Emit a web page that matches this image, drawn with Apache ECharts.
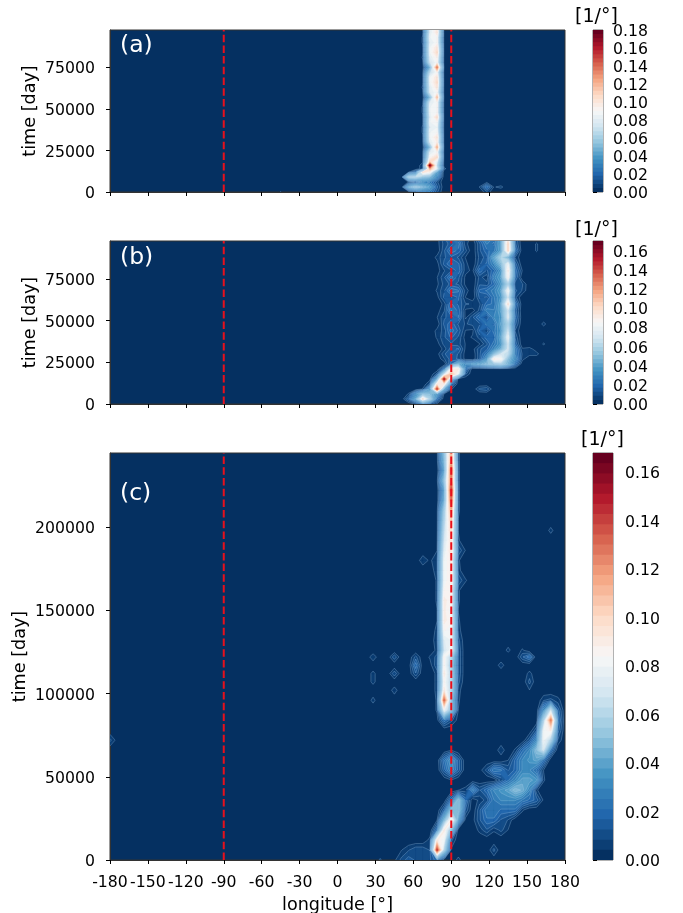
<!DOCTYPE html>
<html>
<head>
<meta charset="utf-8">
<style>
  html, body { margin: 0; padding: 0; background: #fff; }
  #main { width: 683px; height: 913px; }
</style>
<script src="https://cdn.jsdelivr.net/npm/echarts@6/dist/echarts.min.js"></script>
</head>
<body>
<div id="main"></div>
<script>
// rows are [time, first longitude, value, value, ...] on a 5.625 degree grid
// several rows can share a time, anything not listed is zero
const rowsA = [
  [0, -45, 0.005], [0, 5.625, 0.004], [0, 39.375, 0.004],
  [0, 61.875, 0.006, 0.02, 0.025, 0.01], [0, 118.125, 0.008],
  [3000, 56.25, 0.045, 0.06, 0.05, 0.04, 0.015], [3000, 112.5, 0.005, 0.022, 0.004], [3000, 129.375, 0.006],
  [6000, 56.25, 0.005, 0.01, 0.03, 0.025, 0.01], [6000, 118.125, 0.003],
  [9000, 56.25, 0.065, 0.07, 0.055, 0.05, 0.03],
  [12000, 56.25, 0.004, 0.02, 0.1, 0.09, 0.04],
  [14000, 67.5, 0.008, 0.12, 0.08, 0.006],
  [16000, 67.5, 0.008, 0.17, 0.07],
  [18000, 67.5, 0.004, 0.11, 0.08],
  [21000, 67.5, 0.004, 0.09, 0.105],
  [24000, 67.5, 0.004, 0.08, 0.09],
  [27000, 67.5, 0.002, 0.05, 0.12],
  [30000, 67.5, 0.004, 0.08, 0.095],
  [33000, 67.5, 0.004, 0.085, 0.1],
  [36000, 67.5, 0.005, 0.085, 0.09],
  [39000, 67.5, 0.005, 0.08, 0.085],
  [42000, 67.5, 0.004, 0.085, 0.09],
  [45000, 67.5, 0.004, 0.08, 0.105],
  [48000, 67.5, 0.005, 0.085, 0.09],
  [51000, 67.5, 0.005, 0.085, 0.09],
  [54000, 67.5, 0.004, 0.08, 0.09],
  [57000, 67.5, 0.002, 0.05, 0.115],
  [60000, 67.5, 0.004, 0.08, 0.09],
  [63000, 67.5, 0.005, 0.08, 0.1],
  [66000, 67.5, 0.004, 0.085, 0.105],
  [69000, 67.5, 0.004, 0.085, 0.1],
  [72000, 67.5, 0.004, 0.07, 0.09],
  [75000, 67.5, 0.002, 0.045, 0.135],
  [78000, 67.5, 0.004, 0.075, 0.09],
  [81000, 67.5, 0.005, 0.08, 0.095],
  [84000, 67.5, 0.004, 0.085, 0.105],
  [87000, 67.5, 0.004, 0.085, 0.1],
  [90000, 67.5, 0.005, 0.08, 0.09],
  [93000, 67.5, 0.005, 0.085, 0.09],
  [96000, 67.5, 0.004, 0.08, 0.1],
  [99000, 67.5, 0.004, 0.08, 0.095]
]

const rowsB = [
  [0, -45, 0.004], [0, 61.875, 0.005, 0.02, 0.012, 0.003], [0, 112.5, 0.004], [0, 140.625, 0.004],
  [3000, 56.25, 0.015, 0.04, 0.095, 0.06, 0.02],
  [6000, 56.25, 0.005, 0.03, 0.05, 0.05, 0.035, 0.003],
  [9000, 67.5, 0.005, 0.035, 0.14, 0.04, 0.005], [9000, 112.5, 0.01, 0.012],
  [12000, 73.125, 0.01, 0.09, 0.09, 0.02],
  [15000, 73.125, 0.002, 0.04, 0.15, 0.05],
  [18000, 78.75, 0.01, 0.07, 0.11, 0.08, 0.01],
  [21000, 84.375, 0.02, 0.09, 0.09, 0.02],
  [24000, 90, 0.02, 0.045, 0.03, 0.035, 0.04, 0.05, 0.055, 0.06, 0.045, 0.02],
  [27000, 84.375, 0.008, 0.015, 0.012, 0.002, 0, 0.012, 0.035, 0.09, 0.085, 0.05, 0.03, 0.006],
  [30000, 78.75, 0.002, 0.012, 0.018, 0.012, 0.002, 0, 0.012, 0.025, 0.05, 0.07, 0.065, 0.025, 0.008, 0.006, 0.006],
  [33000, 78.75, 0, 0.006, 0.015, 0.018, 0.003, 0.002, 0.012, 0.016, 0.03, 0.045, 0.07, 0.025, 0.005, 0.006, 0.002],
  [36000, 78.75, 0.002, 0.01, 0.012, 0.01, 0.004, 0, 0.004, 0.012, 0.024, 0.035, 0.07, 0.016], [36000, 163.125, 0.005],
  [40000, 78.75, 0.005, 0.012, 0.018, 0.012, 0.002, 0.005, 0.01, 0.02, 0.018, 0.04, 0.08, 0.012],
  [44000, 78.75, 0.006, 0.01, 0.024, 0.016, 0.004, 0.003, 0.018, 0.01, 0.024, 0.035, 0.07, 0.008],
  [48000, 78.75, 0, 0.014, 0.02, 0.012, 0.008, 0.01, 0.012, 0.024, 0.02, 0.04, 0.06, 0.014], [48000, 163.125, 0.006],
  [52000, 78.75, 0.004, 0.012, 0.015, 0.022, 0.003, 0.012, 0.022, 0.012, 0.03, 0.035, 0.075, 0.018],
  [56000, 78.75, 0.002, 0.008, 0.026, 0.02, 0.003, 0.002, 0.01, 0.028, 0.026, 0.04, 0.07, 0.015],
  [60000, 78.75, 0, 0.006, 0.022, 0.016, 0.009, 0.008, 0.008, 0.02, 0.022, 0.04, 0.095, 0.02],
  [64000, 78.75, 0.002, 0.014, 0.012, 0.018, 0.004, 0, 0.014, 0.012, 0.025, 0.035, 0.07, 0.01],
  [68000, 78.75, 0.005, 0.012, 0.025, 0.022, 0.007, 0, 0.018, 0.022, 0.028, 0.04, 0.085, 0.014, 0.008],
  [72000, 78.75, 0.003, 0.01, 0.014, 0.012, 0.003, 0, 0.012, 0.01, 0.02, 0.035, 0.06, 0.01, 0.009],
  [76000, 78.75, 0.004, 0.012, 0.024, 0.014, 0.003, 0, 0.01, 0.006, 0.028, 0.04, 0.085, 0.018],
  [80000, 78.75, 0.002, 0.008, 0.012, 0.02, 0.006, 0.003, 0.02, 0.012, 0.02, 0.035, 0.09, 0.02, 0.004],
  [84000, 78.75, 0.002, 0.014, 0.022, 0.018, 0.006, 0, 0.012, 0.018, 0.03, 0.05, 0.08, 0.015],
  [88000, 78.75, 0.006, 0.012, 0.016, 0.012, 0.004, 0, 0.01, 0.015, 0.04, 0.06, 0.045, 0.008],
  [92000, 78.75, 0, 0.012, 0.024, 0.02, 0.01, 0, 0.012, 0.02, 0.024, 0.04, 0.1, 0.02], [92000, 157.5, 0.005],
  [96000, 78.75, 0.002, 0.01, 0.015, 0.024, 0.006, 0, 0.012, 0.026, 0.02, 0.04, 0.1, 0.014], [96000, 157.5, 0.005],
  [100000, 78.75, 0.002, 0.012, 0.022, 0.016, 0.006, 0.003, 0.02, 0.035, 0.024, 0.04, 0.09, 0.012]
]

const rowsC = [
  [0, 33.75, 0.005], [0, 45, 0.003, 0.01, 0.015, 0.012, 0.01, 0.012, 0.02], [0, 95.625, 0.006],
  [6000, 50.625, 0.004, 0.008, 0.012, 0.012, 0.008, 0.14, 0.06, 0.003], [6000, 123.75, 0.01],
  [12000, 73.125, 0.006, 0.09, 0.08, 0.01],
  [18000, 78.75, 0.02, 0.09, 0.05], [18000, 112.5, 0.006, 0.012, 0.005, 0.01, 0.004],
  [24000, 78.75, 0.004, 0.045, 0.09, 0.035, 0.002, 0.002, 0.012, 0.02, 0.02, 0.012, 0.008],
  [30000, 84.375, 0.015, 0.05, 0.05, 0.012], [30000, 112.5, 0.012, 0.025, 0.025, 0.02, 0.02, 0.02, 0.005],
  [36000, 90, 0.02, 0.05, 0.02, 0, 0.006, 0.01, 0.025, 0.03, 0.03, 0.03, 0.025, 0.02, 0.015, 0.003],
  [42000, 95.625, 0.004, 0.006, 0.028, 0.012, 0.02, 0.03, 0.035, 0.04, 0.05, 0.045, 0.03, 0.005],
  [48000, 90, 0.004], [48000, 129.375, 0.01, 0.02, 0.03, 0.04, 0.04, 0.035, 0.005],
  [54000, 84.375, 0.015, 0.03, 0.015], [54000, 112.5, 0.002, 0.01, 0.025, 0.022, 0.012, 0.018, 0.03, 0.03, 0.02, 0.004],
  [60000, 84.375, 0.02, 0.035, 0.015], [60000, 135, 0.004, 0.018, 0.03, 0.035, 0.04, 0.02],
  [66000, 90, 0.004], [66000, 129.375, 0.008, 0, 0.005, 0.02, 0.03, 0.05, 0.07, 0.02],
  [72000, -180, 0.01, 0.002], [72000, 151.875, 0.012, 0.03, 0.08, 0.06, 0.008],
  [78000, 157.5, 0.012, 0.08, 0.09, 0.015],
  [84000, 78.75, 0.002, 0.02, 0.01, 0.002], [84000, 163.125, 0.06, 0.125, 0.02],
  [90000, 78.75, 0.005, 0.08, 0.05, 0.004], [90000, 163.125, 0.03, 0.07, 0.015],
  [96000, 28.125, 0.006], [96000, 78.75, 0.005, 0.13, 0.05, 0.005], [96000, 163.125, 0.008, 0.01, 0.006],
  [102000, 45, 0.007], [102000, 78.75, 0.006, 0.09, 0.06, 0.006], [102000, 151.875, 0.004],
  [107000, 28.125, 0.006], [107000, 78.75, 0.006, 0.085, 0.06, 0.01], [107000, 151.875, 0.01],
  [112000, 28.125, 0.006], [112000, 45, 0.012], [112000, 61.875, 0.012], [112000, 78.75, 0.006, 0.09, 0.06, 0.012], [112000, 151.875, 0.006],
  [117000, 61.875, 0.02], [117000, 73.125, 0.002, 0.012, 0.085, 0.055, 0.012], [117000, 129.375, 0.007],
  [122000, 28.125, 0.008], [122000, 45, 0.012], [122000, 61.875, 0.01], [122000, 73.125, 0.005, 0.01, 0.085, 0.06, 0.012], [122000, 146.25, 0.012, 0.02],
  [126000, 78.75, 0.006, 0.07, 0.085, 0.012], [126000, 135, 0.006], [126000, 146.25, 0.005],
  [132000, 78.75, 0.008, 0.075, 0.08, 0.01],
  [138000, 78.75, 0.006, 0.085, 0.08, 0.006],
  [144000, 78.75, 0.004, 0.09, 0.085, 0.005],
  [150000, 78.75, 0.004, 0.09, 0.08, 0.004],
  [156000, 78.75, 0.005, 0.09, 0.085, 0.005],
  [162000, 78.75, 0.005, 0.085, 0.085, 0.005],
  [168000, 78.75, 0.005, 0.08, 0.09, 0.012, 0.005],
  [174000, 78.75, 0.008, 0.08, 0.09, 0.006],
  [180000, 67.5, 0.008, 0.003, 0.008, 0.08, 0.09, 0.005],
  [186000, 78.75, 0.004, 0.075, 0.095, 0.012, 0.004],
  [192000, 78.75, 0.003, 0.07, 0.095, 0.005],
  [198000, 78.75, 0.002, 0.065, 0.1, 0.004], [198000, 168.75, 0.006],
  [204000, 78.75, 0.002, 0.06, 0.105, 0.004],
  [210000, 78.75, 0.002, 0.055, 0.115, 0.005],
  [216000, 78.75, 0, 0.04, 0.13, 0.005],
  [222000, 78.75, 0, 0.035, 0.14, 0.005],
  [228000, 78.75, 0.002, 0.05, 0.125, 0.005],
  [234000, 78.75, 0, 0.035, 0.13, 0.005],
  [240000, 78.75, 0.002, 0.045, 0.115, 0.005],
  [246000, 78.75, 0.002, 0.05, 0.11, 0.005]
]

const lonTicks = [-180, -150, -120, -90, -60, -30, 0, 30, 60, 90, 120, 150, 180]
const timeTicksShort = [0, 25000, 50000, 75000]
const timeTicksLong = [0, 50000, 100000, 150000, 200000]
const barTicksA = [0, 0.02, 0.04, 0.06, 0.08, 0.1, 0.12, 0.14, 0.16, 0.18]
const barTicksBC = [0, 0.02, 0.04, 0.06, 0.08, 0.1, 0.12, 0.14, 0.16]
const guideLons = [-90, 90]
const rdbu = ['#053061', '#2166ac', '#4393c3', '#92c5de', '#d1e5f0', '#f7f7f7', '#fddbc7', '#f4a582', '#d6604d', '#b2182b', '#67001f']

const LON_STEP = 5.625
const BANDS = 40
const FONT = 'DejaVu Sans'
const TICK_SIZE = 15.7
const NAME_SIZE = 17.6

const bandIds = []
for (let i = 0; i < BANDS; i++) bandIds.push(i)

function bandColor (k) {
  return echarts.color.lerp(k / (BANDS - 1), rdbu)
}

// sparse rows -> { times, cells[timeIdx][lonIdx] }
function buildGrid (rows) {
  const times = Array.from(new Set(rows.map(r => r[0]))).sort((a, b) => a - b)
  const cells = times.map(() => new Array(65).fill(0))
  rows.forEach(r => {
    const ti = times.indexOf(r[0])
    const li = Math.round((r[1] + 180) / LON_STEP)
    for (let n = 2; n < r.length; n++) cells[ti][li + n - 2] = r[n]
  })
  return { times, cells }
}

// part of one grid square at or above level, edges cut linearly like a contour
function clipSquare (corners, level) {
  const poly = []
  const cuts = []
  corners.forEach((a, n) => {
    const b = corners[(n + 1) % corners.length]
    if (a[2] >= level) poly.push([a[0], a[1]])
    if ((a[2] >= level) !== (b[2] >= level)) {
      const f = (level - a[2]) / (b[2] - a[2])
      const p = [a[0] + (b[0] - a[0]) * f, a[1] + (b[1] - a[1]) * f]
      poly.push(p)
      cuts.push(p)
    }
  })
  return { poly, cuts }
}

// filled contours, one data item per band, painted low to high
function contourSeries (rows, maxVal, gridIndex) {
  const { times, cells } = buildGrid(rows)
  return {
    type: 'custom',
    xAxisIndex: gridIndex,
    yAxisIndex: gridIndex,
    clip: true,
    silent: true,
    data: bandIds.slice(1).map(k => [k, 0]),
    renderItem (params, api) {
      const k = api.value(0)
      const level = maxVal * k / BANDS
      const fill = bandColor(k)
      const children = []
      for (let j = 0; j < times.length - 1; j++) {
        for (let i = 0; i < 64; i++) {
          const v00 = cells[j][i]
          const v10 = cells[j][i + 1]
          const v11 = cells[j + 1][i + 1]
          const v01 = cells[j + 1][i]
          if (Math.max(v00, v10, v11, v01) < level) continue
          const lon0 = -180 + i * LON_STEP
          const lon1 = lon0 + LON_STEP
          const { poly, cuts } = clipSquare([
            [lon0, times[j], v00],
            [lon1, times[j], v10],
            [lon1, times[j + 1], v11],
            [lon0, times[j + 1], v01]
          ], level)
          if (poly.length < 3) continue
          children.push({
            type: 'polygon',
            shape: { points: poly.map(p => api.coord(p)) },
            style: { fill: fill, stroke: fill, lineWidth: 0.3 }
          })
          // the pale seam the low contours show in the original
          if (k < 16 && cuts.length === 2) {
            const p0 = api.coord(cuts[0])
            const p1 = api.coord(cuts[1])
            children.push({
              type: 'line',
              z2: 1,
              shape: { x1: p0[0], y1: p0[1], x2: p1[0], y2: p1[1] },
              style: { stroke: 'rgba(170,205,235,0.4)', lineWidth: 0.7 }
            })
          }
        }
      }
      return { type: 'group', children }
    }
  }
}

function barSeries (maxVal, gridIndex) {
  return {
    type: 'custom',
    xAxisIndex: gridIndex,
    yAxisIndex: gridIndex,
    silent: true,
    data: bandIds.map(k => [k, 0]),
    renderItem (params, api) {
      const k = api.value(0)
      const lo = api.coord([0, maxVal * k / BANDS])
      const hi = api.coord([1, maxVal])
      return {
        type: 'rect',
        shape: { x: lo[0], y: hi[1], width: hi[0] - lo[0], height: lo[1] - hi[1] },
        style: { fill: bandColor(k) }
      }
    }
  }
}

function guideSeries (lon, top, gridIndex) {
  return {
    type: 'line',
    xAxisIndex: gridIndex,
    yAxisIndex: gridIndex,
    silent: true,
    symbol: 'none',
    z: 5,
    lineStyle: { color: '#e8101c', width: 2, type: [7.5, 3.2] },
    data: [[lon, 0], [lon, top]]
  }
}

const panels = [
  { top: 30, height: 162, maxTime: 97500, ticks: timeTicksShort, nameGap: 71, rows: rowsA, max: 0.18, barTicks: barTicksA, barWidth: 10, barMargin: 10, tag: '(a)', tagTop: 29, unitLeft: 570, unitTop: 3 },
  { top: 241, height: 163, maxTime: 97800, ticks: timeTicksShort, nameGap: 71, rows: rowsB, max: 0.17, barTicks: barTicksBC, barWidth: 10, barMargin: 10, tag: '(b)', tagTop: 241, unitLeft: 570, unitTop: 216 },
  { top: 453, height: 407, maxTime: 244500, ticks: timeTicksLong, nameGap: 81, rows: rowsC, max: 0.168, barTicks: barTicksBC, barWidth: 20, barMargin: 12, tag: '(c)', tagTop: 477, unitLeft: 576, unitTop: 426 }
]

const axisLine = { show: true, onZero: false, lineStyle: { color: '#333', width: 1 } }
const axisTick = { show: true, length: 4, lineStyle: { color: '#000', width: 1 } }
// top padding nudges the digits down onto their ticks
const tickRich = { n: { fontSize: TICK_SIZE, color: '#000', fontFamily: FONT, padding: [4, 0, 0, 0] } }

const option = {
  animation: false,
  backgroundColor: '#fff',
  textStyle: { fontFamily: FONT },
  title: [],
  grid: [],
  xAxis: [],
  yAxis: [],
  series: []
}

panels.forEach((p, idx) => {
  option.grid[idx] = {
    left: 110, width: 455, top: p.top, height: p.height,
    outerBoundsMode: 'none',
    show: true, backgroundColor: rdbu[0], borderColor: '#333', borderWidth: 1, z: 0
  }
  option.xAxis[idx] = {
    type: 'value', gridIndex: idx, min: -180, max: 180, interval: 30,
    splitLine: { show: false }, axisLine, axisTick,
    axisLabel: { show: idx === 2, fontSize: TICK_SIZE, color: '#000', margin: 15, fontFamily: FONT, customValues: lonTicks },
    name: idx === 2 ? 'longitude [°]' : '',
    nameLocation: 'middle', nameGap: 36, nameMoveOverlap: false,
    nameTextStyle: { fontSize: NAME_SIZE, color: '#000', fontFamily: FONT }
  }
  option.yAxis[idx] = {
    type: 'value', gridIndex: idx, min: 0, max: p.maxTime,
    splitLine: { show: false }, axisLine,
    axisTick: Object.assign({}, axisTick, { customValues: p.ticks }),
    axisLabel: { customValues: p.ticks, margin: 15, rich: tickRich, formatter: v => '{n|' + v + '}' },
    name: 'time [day]', nameLocation: 'middle', nameGap: p.nameGap, nameMoveOverlap: false,
    nameTextStyle: { fontSize: NAME_SIZE, color: '#000', fontFamily: FONT }
  }
  option.series.push(contourSeries(p.rows, p.max, idx))
  guideLons.forEach(lon => option.series.push(guideSeries(lon, p.maxTime, idx)))

  // colorbar
  const b = idx + 3
  option.grid[b] = {
    left: 593, width: p.barWidth, top: p.top, height: p.height,
    outerBoundsMode: 'none',
    show: true, borderColor: '#666', borderWidth: 1
  }
  option.xAxis[b] = { type: 'value', gridIndex: b, min: 0, max: 1, show: false }
  option.yAxis[b] = {
    type: 'value', gridIndex: b, position: 'right', min: 0, max: p.max,
    splitLine: { show: false }, axisLine: { show: false },
    axisTick: Object.assign({}, axisTick, { customValues: p.barTicks }),
    axisLabel: { customValues: p.barTicks, margin: p.barMargin, rich: tickRich, formatter: v => '{n|' + v.toFixed(2) + '}' }
  }
  option.series.push(barSeries(p.max, b))

  option.title.push({
    text: p.tag, left: 115, top: p.tagTop,
    textStyle: { color: '#fff', fontSize: 23.5, fontWeight: 'normal', fontFamily: FONT }
  })
  option.title.push({
    text: '[1/°]', left: p.unitLeft, top: p.unitTop,
    textStyle: { color: '#000', fontSize: 19, fontWeight: 'normal', fontFamily: FONT }
  })
})

const chart = echarts.init(document.getElementById('main'), null, { renderer: 'canvas' })
chart.setOption(option)
</script>
</body>
</html>
